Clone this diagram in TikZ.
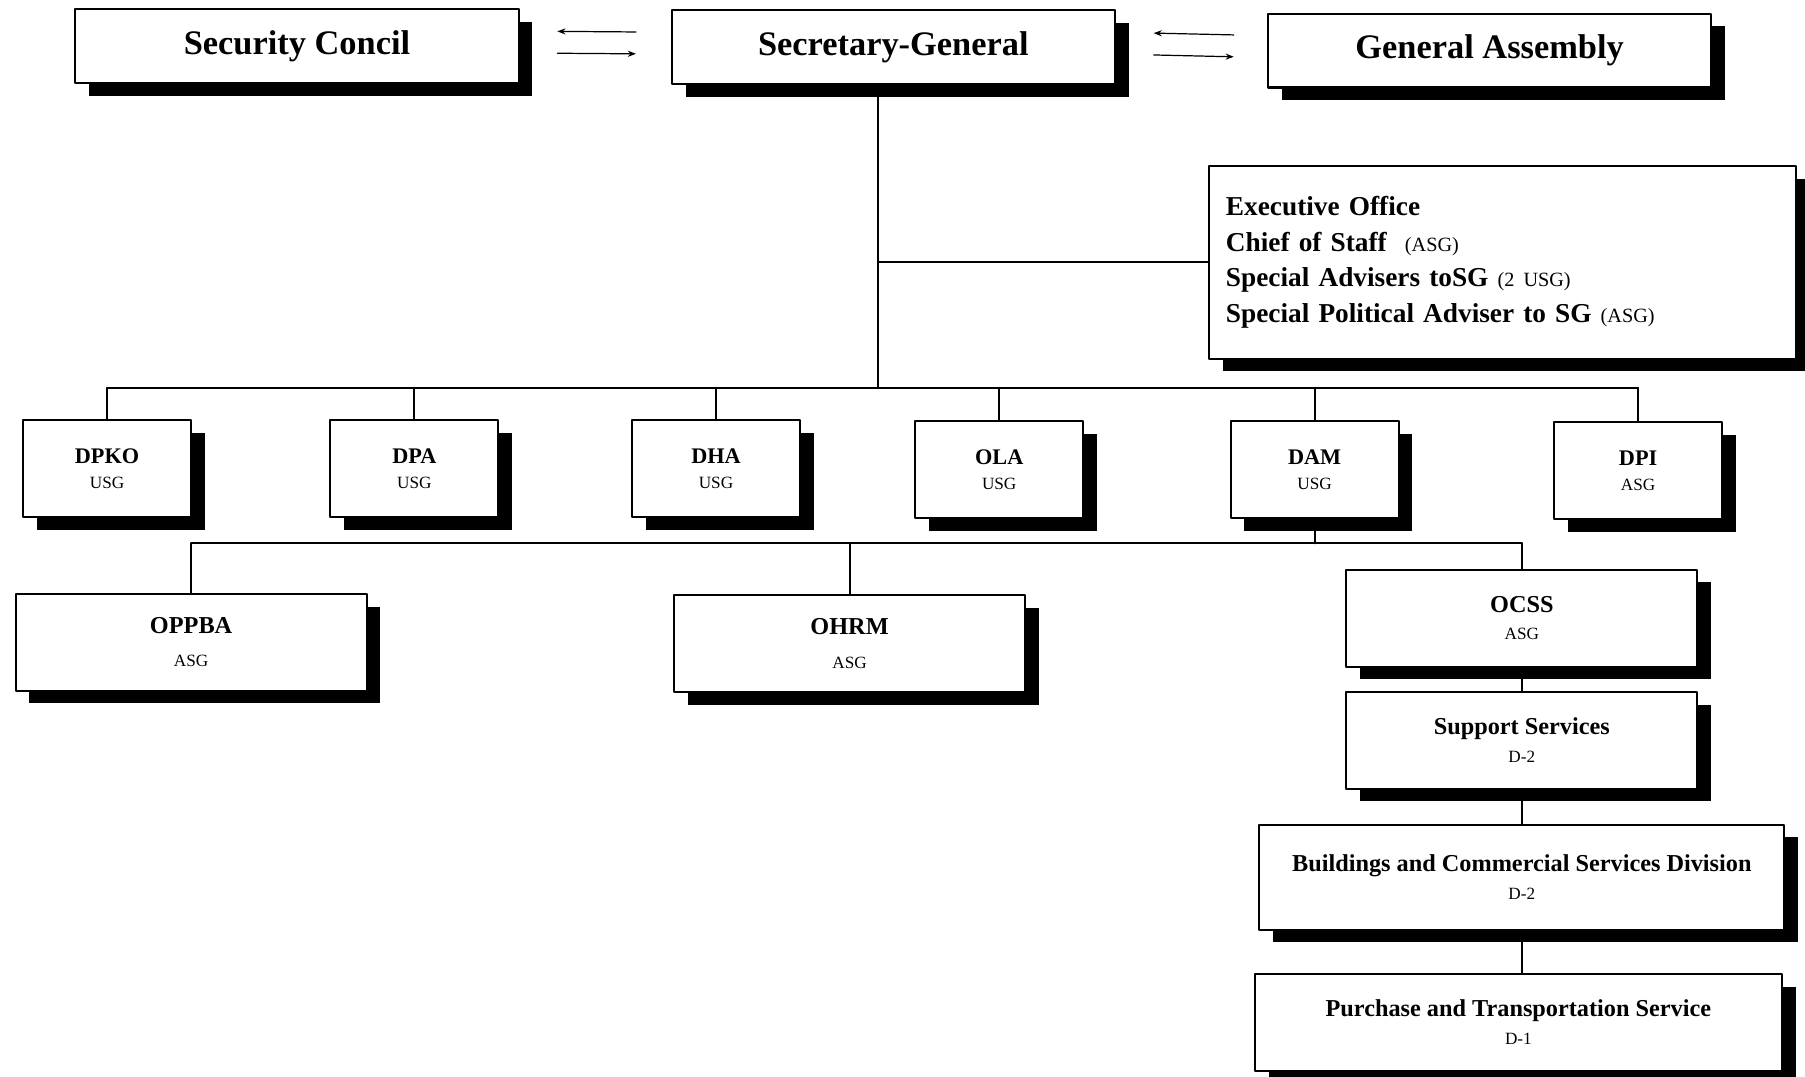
\documentclass[tikz,border=0pt]{standalone}
\usepackage{fontspec}
\setmainfont{Liberation Serif}
\usetikzlibrary{shadows,calc,arrows.meta}

\tikzset{
  unit/.style={draw,line width=1pt,fill=white,align=center,inner sep=0pt,
    drop shadow={shadow xshift=2.4mm,shadow yshift=-2.2mm,opacity=1,fill=black}},
  head/.style={unit,minimum width=77mm,minimum height=12.8mm,font=\fontsize{17}{20}\selectfont\bfseries},
  dept/.style={unit,minimum width=29.2mm,minimum height=16.8mm,font=\fontsize{11}{12.5}\selectfont\bfseries},
  office/.style={unit,minimum width=61mm,minimum height=16.8mm,font=\fontsize{12}{13.5}\selectfont\bfseries},
  link/.style={line width=1pt},
  flow/.style={line width=.6pt,-{Stealth[length=4pt,width=3pt]}}
}
\newcommand{\gradetxt}[1]{{\fontsize{8.5}{9}\selectfont\mdseries #1}}
\newcommand{\rolenote}[1]{{\fontsize{10}{12}\selectfont\mdseries #1}}

\begin{document}
\begin{tikzpicture}[x=0.2mm,y=-0.2mm,line cap=round,line join=round]
\useasboundingbox (0,0) rectangle (1568,935);

% top level
\node[head] (sc) at (258,40) {Security Concil};
\node[head] (sg) at (776,41) {Secretary-General};
\node[head] (ga) at (1294,44) {General Assembly};

\draw[flow] ($(sc.east)!.77!(sg.west)+(0,-13)$) -- ($(sc.east)!.25!(sg.west)+(0,-13)$);
\draw[flow] ($(sc.east)!.25!(sg.west)+(0,6)$) -- ($(sc.east)!.77!(sg.west)+(0,6)$);
\draw[flow] ($(sg.east)!.78!(ga.west)+(0,-13)$) -- ($(sg.east)!.25!(ga.west)+(0,-13)$);
\draw[flow] ($(sg.east)!.25!(ga.west)+(0,6)$) -- ($(sg.east)!.78!(ga.west)+(0,6)$);

% executive office
\node[unit,align=left,text width=96mm,inner xsep=3mm,minimum height=33.4mm,
  font=\fontsize{13.5}{17.6}\selectfont\bfseries] (exec) at (1305,228) {%
  Executive Office\\
  Chief of Staff\ \ \rolenote{(ASG)}\\
  Special Advisers toSG \rolenote{(2 USG)}\\
  Special Political Adviser to SG \rolenote{(ASG)}};

\coordinate (spine) at (763,337);
\draw[link] (sg.south -| spine) -- (spine);
\draw[link] (spine |- exec.west) -- (exec.west);

% departments
\node[dept] (dpko) at (93,407) {DPKO\\\gradetxt{USG}};
\node[dept] (dpa) at (360,407) {DPA\\\gradetxt{USG}};
\node[dept] (dha) at (622,407) {DHA\\\gradetxt{USG}};
\node[dept] (ola) at (868,408) {OLA\\\gradetxt{USG}};
\node[dept] (dam) at (1142,408) {DAM\\\gradetxt{USG}};
\node[dept] (dpi) at (1423,409) {DPI\\\gradetxt{ASG}};

\draw[link] (dpko.north |- spine) -- (dpi.north |- spine);
\foreach \d in {dpko,dpa,dha,ola,dam,dpi}
  \draw[link] (\d.north |- spine) -- (\d.north);

% offices under DAM
\node[office] (oppba) at (166,558) {OPPBA\\[3pt]\gradetxt{ASG}};
\node[office] (ohrm) at (738,559) {OHRM\\[3pt]\gradetxt{ASG}};
\node[office] (ocss) at (1322,537) {OCSS\\\gradetxt{ASG}};

\coordinate (sub) at (1145,472);
\draw[link] (dam.south) -- (dam.south |- sub);
\draw[link] (oppba.north |- sub) -- (ocss.north |- sub);
\foreach \o in {oppba,ohrm,ocss}
  \draw[link] (\o.north |- sub) -- (\o.north);

% support chain
\node[office] (ss) at (1322,643) {Support Services\\\gradetxt{D-2}};
\node[office,minimum width=91.2mm,minimum height=18.2mm] (bcsd) at (1322,762)
  {Buildings and Commercial Services Division\\\gradetxt{D-2}};
\node[office,minimum width=91.6mm] (pts) at (1319,888)
  {Purchase and Transportation Service\\\gradetxt{D-1}};

\draw[link] (ocss.south) -- (ocss.south |- ss.north);
\draw[link] (ss.south) -- (ss.south |- bcsd.north);
\draw[link] (bcsd.south) -- (bcsd.south |- pts.north);
\end{tikzpicture}
\end{document}
